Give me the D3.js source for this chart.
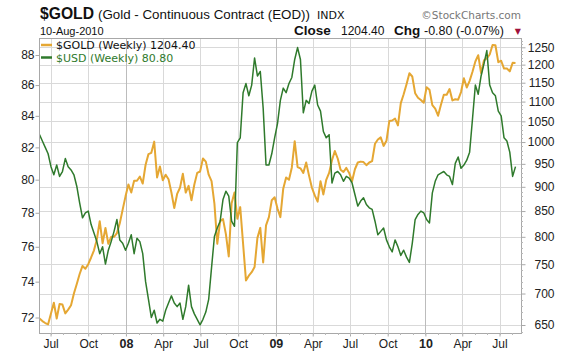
<!DOCTYPE html>
<html><head><meta charset="utf-8">
<script src="https://cdn.jsdelivr.net/npm/d3@7"></script>
<style>
html,body{margin:0;padding:0;background:#fff;}
svg{display:block;}
</style></head>
<body>
<svg id="c" width="576" height="355"></svg>
<script>
// ---------- DATA ----------
const firstWeek = new Date(2007, 5, 4);   // week of 4-Jun-2007
const lastWeek  = new Date(2010, 7, 9);   // week of 9-Aug-2010 (10-Aug-2010)

const goldWeekly = [
  // 2007
  660, 656, 653, 651, 668, 685, 660, 683, 682, 668, 674, 681, 700, 716, 733, 747, 742, 750, 762, 775,
  795, 830, 788, 817, 787, 800, 800, 807, 826, 853,
  // 2008
  880, 905, 888, 913, 913, 922, 907, 948, 972, 975, 1001, 920, 944, 914, 926, 916, 888, 856, 885, 898,
  928, 888, 902, 872, 905, 930, 933, 962, 955, 926, 912, 865, 787, 830, 834, 805, 764, 866, 888, 835,
  858, 787, 722, 730, 736, 745, 798, 817, 753, 822, 838, 872,
  // 2009
  878, 855, 838, 896, 920, 915, 942, 1002, 943, 940, 930, 953, 924, 898, 882, 869, 912, 884, 915, 930,
  958, 979, 962, 937, 932, 941, 930, 912, 938, 953, 955, 954, 947, 953, 956, 996, 1006, 1011, 991, 1003,
  1051, 1052, 1057, 1040, 1096, 1119, 1146, 1176, 1167, 1122, 1110, 1104,
  // 2010
  1097, 1138, 1131, 1091, 1082, 1064, 1092, 1118, 1118, 1133, 1103, 1106, 1105, 1125, 1162, 1137, 1155, 1180, 1209, 1227,
  1176, 1212, 1218, 1229, 1257, 1256, 1207, 1211, 1189, 1189, 1181, 1205, 1204.4
];

const usdWeekly = [
  // 2007
  82.8, 82.4, 82.0, 81.6, 80.8, 80.3, 80.9, 80.2, 80.5, 81.3, 80.8, 80.6, 80.3, 79.6, 78.6, 77.7, 78.0, 78.1, 77.3, 76.8,
  76.3, 75.6, 76.0, 75.0, 75.8, 76.3, 76.9, 77.6, 76.4, 76.2,
  // 2008
  75.8, 76.2, 76.7, 75.6, 76.5, 76.3, 75.6, 74.0, 73.0, 72.0, 72.4, 71.7, 71.9, 71.8, 72.4, 72.8, 73.2, 72.8, 72.6, 72.8,
  71.9, 72.6, 73.8, 72.6, 72.2, 71.9, 71.6, 71.9, 72.3, 73.0, 74.8, 76.6, 77.1, 77.5, 78.8, 79.3, 79.0, 77.5, 77.2, 82.3,
  82.6, 85.5, 86.1, 85.3, 86.0, 87.8, 86.6, 86.9, 84.5, 80.9, 80.9, 81.6,
  // 2009
  82.6, 83.5, 85.0, 85.8, 85.5, 86.1, 86.5, 87.7, 88.5, 87.7, 84.2, 85.0, 84.8, 85.6, 86.0, 84.7, 84.3, 83.0, 82.6, 82.8,
  79.8, 80.4, 80.5, 80.3, 79.9, 80.2, 80.1, 79.8, 79.1, 78.4, 78.7, 78.9, 78.5, 78.3, 78.2, 77.5, 76.7, 76.9, 77.1, 76.4,
  76.0, 75.7, 76.4, 76.0, 75.5, 75.8, 75.4, 75.1, 76.2, 77.6, 77.9, 78.1,
  // 2010
  78.0, 77.6, 77.4, 79.2, 79.9, 80.3, 80.4, 80.5, 80.3, 80.2, 79.7, 81.0, 81.4, 80.7, 80.9, 81.2, 81.7, 83.8, 86.0, 85.4,
  86.6, 87.4, 88.3, 86.0, 85.5, 85.3, 84.3, 84.0, 82.6, 82.4, 81.7, 80.2, 80.8
];

const goldTicks = [650, 700, 750, 800, 850, 900, 950, 1000, 1050, 1100, 1150, 1200, 1250];
const usdTicks  = [72, 74, 76, 78, 80, 82, 84, 86, 88];

const titleSymbol = "$GOLD";
const titleName = "(Gold - Continuous Contract (EOD))";
const titleExchange = "INDX";
const brandText = "\u00A9StockCharts.com";
const dateText = "10-Aug-2010";
const closeLabel = "Close";
const closeValue = "1204.40";
const chgLabel = "Chg";
const changeText = "-0.80 (-0.07%)";
const legendGold = "$GOLD (Weekly) 1204.40";
const legendUsd = "$USD (Weekly) 80.80";

// ---------- LAYOUT ----------
const L = 39, R = 521, T = 38, B = 333;
const goldColor = "#E5A733", usdColor = "#2F7A2C";
const svg = d3.select("#c");
const arial = "Liberation Sans, Arial, sans-serif";
const verdana = "DejaVu Sans, Verdana, sans-serif";

const weeks = d3.timeMonday.range(firstWeek, d3.timeDay.offset(lastWeek, 1));
const gold = weeks.map((d, i) => ({date: d, v: goldWeekly[i]}));
const usd  = weeks.map((d, i) => ({date: d, v: usdWeekly[i]}));

const x = d3.scaleTime().domain([firstWeek, lastWeek]).range([39.5, 515.5]);
const yG = d3.scaleLog().domain([650, 1250]).range([325, 47.3]);
const yU = d3.scaleLog().domain([72, 88]).range([317.5, 55]);

// grid
const quarters = d3.timeMonth.every(3).range(new Date(2007, 3, 1), new Date(2010, 9, 1))
  .filter(d => x(d) > L && x(d) < R);
const g = svg.append("g");
g.selectAll(".hg").data(goldTicks).join("line")
  .attr("x1", L).attr("x2", R).attr("y1", d => Math.round(yG(d)) + 0.5).attr("y2", d => Math.round(yG(d)) + 0.5)
  .attr("stroke", "#d9d9d9").attr("stroke-width", 1);
g.selectAll(".vg").data(quarters).join("line")
  .attr("x1", d => Math.round(x(d)) + 0.5).attr("x2", d => Math.round(x(d)) + 0.5).attr("y1", T).attr("y2", B)
  .attr("stroke", d => d.getMonth() === 0 ? "#bcbcbc" : "#d9d9d9").attr("stroke-width", 1);

// frame
svg.append("rect").attr("x", L + 0.5).attr("y", T + 0.5).attr("width", R - L).attr("height", B - T)
  .attr("fill", "none").attr("stroke", "#a8a8a8");

// clip
svg.append("clipPath").attr("id", "clip").append("rect")
  .attr("x", L + 1).attr("y", T + 1).attr("width", R - L - 1).attr("height", B - T - 1);

const lineG = d3.line().x(d => x(d.date)).y(d => yG(d.v));
const lineU = d3.line().x(d => x(d.date)).y(d => yU(d.v));
svg.append("path").datum(gold).attr("clip-path", "url(#clip)").attr("d", lineG)
  .attr("fill", "none").attr("stroke", goldColor).attr("stroke-width", 2).attr("stroke-linejoin", "round");
svg.append("path").datum(usd).attr("clip-path", "url(#clip)").attr("d", lineU)
  .attr("fill", "none").attr("stroke", usdColor).attr("stroke-width", 1.5).attr("stroke-linejoin", "round");

// right axis (gold)
const rightAxis = d3.axisRight(yG).tickValues(goldTicks).tickFormat(d3.format("d")).tickSize(4).tickPadding(2);
const ra = svg.append("g").attr("transform", `translate(${R + 0.5},0)`).call(rightAxis);
ra.select(".domain").remove();
ra.selectAll("line").attr("stroke", "#a8a8a8");
ra.selectAll("text").attr("font-family", arial).attr("font-size", 12)
  .attr("fill", "#222").attr("text-anchor", "end").attr("x", 33);
// minor ticks on right
const minor = d3.range(640, 1290, 10).filter(v => goldTicks.indexOf(v) < 0 && yG(v) > T && yG(v) < B);
svg.append("g").selectAll("line").data(minor).join("line")
  .attr("x1", R).attr("x2", R + 2).attr("y1", d => Math.round(yG(d)) + 0.5).attr("y2", d => Math.round(yG(d)) + 0.5)
  .attr("stroke", "#b8b8b8");

// left axis (usd)
const leftAxis = d3.axisLeft(yU).tickValues(usdTicks).tickFormat(d3.format("d")).tickSize(4).tickPadding(1);
const la = svg.append("g").attr("transform", `translate(${L + 0.5},0)`).call(leftAxis);
la.select(".domain").remove();
la.selectAll("line").attr("stroke", "#a8a8a8");
la.selectAll("text").attr("font-family", arial).attr("font-size", 12).attr("fill", "#222");

// bottom axis
const fmt = d => d.getMonth() === 0 ? d3.timeFormat("%y")(d) : d3.timeFormat("%b")(d);
const bottomAxis = d3.axisBottom(x).tickValues(quarters).tickFormat(fmt).tickSize(3).tickPadding(3);
const ba = svg.append("g").attr("transform", `translate(0,${B + 0.5})`).call(bottomAxis);
ba.select(".domain").remove();
ba.selectAll("line").attr("stroke", "#a8a8a8");
ba.selectAll("text").attr("font-family", arial)
  .attr("font-size", d => d.getMonth() === 0 ? 12.5 : 12)
  .attr("font-weight", d => d.getMonth() === 0 ? "bold" : "normal").attr("fill", "#222");
// monthly minor ticks on bottom
const months = d3.timeMonth.range(new Date(2007, 5, 1), new Date(2010, 8, 1)).filter(d => x(d) > L && x(d) < R);
svg.append("g").selectAll("line").data(months).join("line")
  .attr("x1", d => Math.round(x(d)) + 0.5).attr("x2", d => Math.round(x(d)) + 0.5).attr("y1", B).attr("y2", B + 2)
  .attr("stroke", "#b8b8b8");

// header line 1
const h1 = svg.append("g").attr("fill", "#111");
h1.append("text").attr("x", 40).attr("y", 19).attr("font-family", arial).attr("font-size", 17)
  .attr("font-weight", "bold").attr("textLength", 54).attr("lengthAdjust", "spacingAndGlyphs").text(titleSymbol);
h1.append("text").attr("x", 98).attr("y", 19).attr("font-family", arial).attr("font-size", 12.5)
  .attr("textLength", 212).attr("lengthAdjust", "spacingAndGlyphs").text(titleName);
h1.append("text").attr("x", 317).attr("y", 19).attr("font-family", verdana).attr("font-size", 11).text(titleExchange);
svg.append("text").attr("x", R).attr("y", 19).attr("text-anchor", "end").attr("fill", "#777")
  .attr("font-family", verdana).attr("font-size", 10.5).text(brandText);

// header line 2
const h2 = svg.append("g").attr("fill", "#111").attr("font-family", arial);
h2.append("text").attr("x", 40).attr("y", 35).attr("font-size", 11).text(dateText);
h2.append("text").attr("x", 294).attr("y", 35).attr("font-size", 13.5).attr("font-weight", "bold").text(closeLabel);
h2.append("text").attr("x", 341).attr("y", 35).attr("font-size", 12).text(closeValue);
h2.append("text").attr("x", 394).attr("y", 35).attr("font-size", 13.5).attr("font-weight", "bold").text(chgLabel);
h2.append("text").attr("x", 424).attr("y", 35).attr("font-size", 12.5).text(changeText);
svg.append("text").attr("x", R).attr("y", 34).attr("text-anchor", "end").attr("fill", "#a0103a")
  .attr("font-size", 8).attr("font-family", "DejaVu Sans, sans-serif").text("\u25BC");

// legend
const leg = [{t: legendGold, c: goldColor, tc: "#111", y: 45}, {t: legendUsd, c: usdColor, tc: usdColor, y: 57.5}];
const lg = svg.append("g");
lg.selectAll("line").data(leg).join("line")
  .attr("x1", 41).attr("x2", 52).attr("y1", d => d.y).attr("y2", d => d.y)
  .attr("stroke", d => d.c).attr("stroke-width", 2.5);
lg.selectAll("text").data(leg).join("text")
  .attr("x", 56).attr("y", d => d.y + 4).attr("fill", d => d.tc)
  .attr("font-family", verdana).attr("font-size", 11).text(d => d.t);
</script>
</body></html>
